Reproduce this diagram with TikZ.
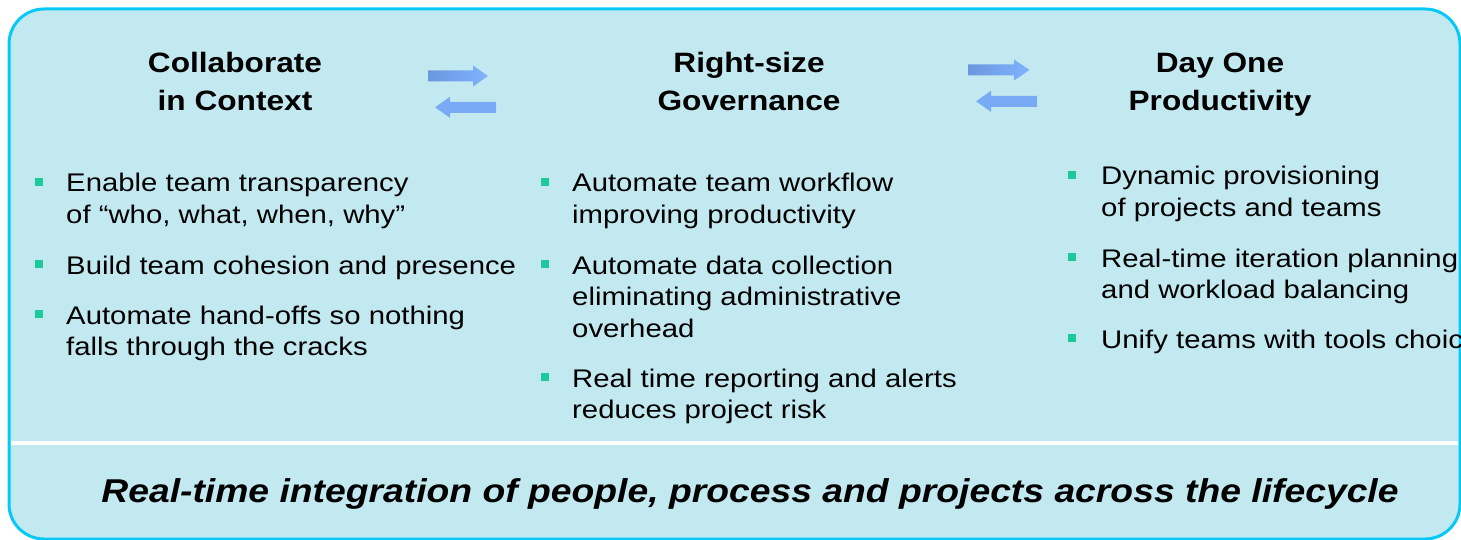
\documentclass[tikz,border=0pt]{standalone}
\usepackage{fontspec}
\setmainfont[FakeStretch=1.13]{Liberation Sans}
\newfontfamily\itemfont[FakeStretch=1.15]{Liberation Sans}
\definecolor{boxfill}{HTML}{C3E9F0}
\definecolor{boxline}{HTML}{08C8F8}
\definecolor{arrowA}{HTML}{6A98DE}
\definecolor{arrowB}{HTML}{80B2FF}
\definecolor{arrowC}{HTML}{78AAF5}
\definecolor{bulletgreen}{HTML}{1CC99A}
\tikzset{
  frame/.style={draw=boxline, line width=3pt, fill=boxfill, rounded corners=35pt},
  sep/.style={draw=white, line width=4pt},
  arrowtop/.style={left color=arrowA, right color=arrowB},
  arrowbot/.style={fill=arrowC},
  heading/.style={anchor=base, inner sep=0pt, font=\fontsize{28}{38}\selectfont\bfseries},
  item/.style={anchor=base west, inner sep=0pt, font=\itemfont\fontsize{25.5}{31.6}\selectfont},
  bul/.style={fill=bulletgreen, minimum size=7.5pt, inner sep=0pt, draw=none},
  slogan/.style={anchor=base, inner sep=0pt, font=\fontsize{33}{38}\selectfont\bfseries\itshape}
}
\begin{document}
\begin{tikzpicture}[x=1pt,y=-1pt]
\useasboundingbox (0,0) rectangle (1461,540);
\clip (0,0) rectangle (1461,540);
\path[frame] (9,9) rectangle (1460,539);
\path[sep] (11,442.5) -- (1458,442.5);

% arrows
\path[arrowtop] (428,70.5) -- (473,70.5) -- (473,65.5) -- (488,76) -- (473,86.5) -- (473,81.5) -- (428,81.5) -- cycle;
\path[arrowbot] (496,101.8) -- (450,101.8) -- (450,96.8) -- (435,107.3) -- (450,117.8) -- (450,112.8) -- (496,112.8) -- cycle;
\path[arrowtop] (968,64.5) -- (1014,64.5) -- (1014,59.5) -- (1029.5,70) -- (1014,80.5) -- (1014,75.5) -- (968,75.5) -- cycle;
\path[arrowbot] (1037,95.8) -- (991,95.8) -- (991,90.8) -- (976,101.3) -- (991,111.8) -- (991,106.8) -- (1037,106.8) -- cycle;

% headings
\node[heading] (h1) at (235,72.5) {\begin{tabular}[t]{@{}c@{}}Collaborate\\in Context\end{tabular}};
\node[heading] (h2) at (749,72.5) {\begin{tabular}[t]{@{}c@{}}Right-size\\Governance\end{tabular}};
\node[heading] (h3) at (1220,72.5) {\begin{tabular}[t]{@{}c@{}}Day One\\Productivity\end{tabular}};

% left column
\node[bul] (b11) at (39,182) {};
\node[item] (t11) at (66,192) {\begin{tabular}[t]{@{}l@{}}Enable team transparency\\of “who, what, when, why”\end{tabular}};
\node[bul] (b12) at (39,264) {};
\node[item] (t12) at (66,274) {\begin{tabular}[t]{@{}l@{}}Build team cohesion and presence\end{tabular}};
\node[bul] (b13) at (39,314) {};
\node[item] (t13) at (66,324) {\begin{tabular}[t]{@{}l@{}}Automate hand-offs so nothing\\falls through the cracks\end{tabular}};

% middle column
\node[bul] (b21) at (545,182) {};
\node[item] (t21) at (572,192) {\begin{tabular}[t]{@{}l@{}}Automate team workflow\\improving productivity\end{tabular}};
\node[bul] (b22) at (545,264) {};
\node[item] (t22) at (572,274) {\begin{tabular}[t]{@{}l@{}}Automate data collection\\eliminating administrative\\overhead\end{tabular}};
\node[bul] (b23) at (545,377) {};
\node[item] (t23) at (572,387) {\begin{tabular}[t]{@{}l@{}}Real time reporting and alerts\\reduces project risk\end{tabular}};

% right column
\node[bul] (b31) at (1072,175) {};
\node[item] (t31) at (1101,185) {\begin{tabular}[t]{@{}l@{}}Dynamic provisioning\\of projects and teams\end{tabular}};
\node[bul] (b32) at (1072,257) {};
\node[item] (t32) at (1101,267) {\begin{tabular}[t]{@{}l@{}}Real-time iteration planning\\and workload balancing\end{tabular}};
\node[bul] (b33) at (1072,338) {};
\node[item] (t33) at (1101,348) {\begin{tabular}[t]{@{}l@{}}Unify teams with tools choic\end{tabular}};

% slogan
\node[slogan] (s) at (750,502) {Real-time integration of people, process and projects across the lifecycle};
\end{tikzpicture}
\end{document}
